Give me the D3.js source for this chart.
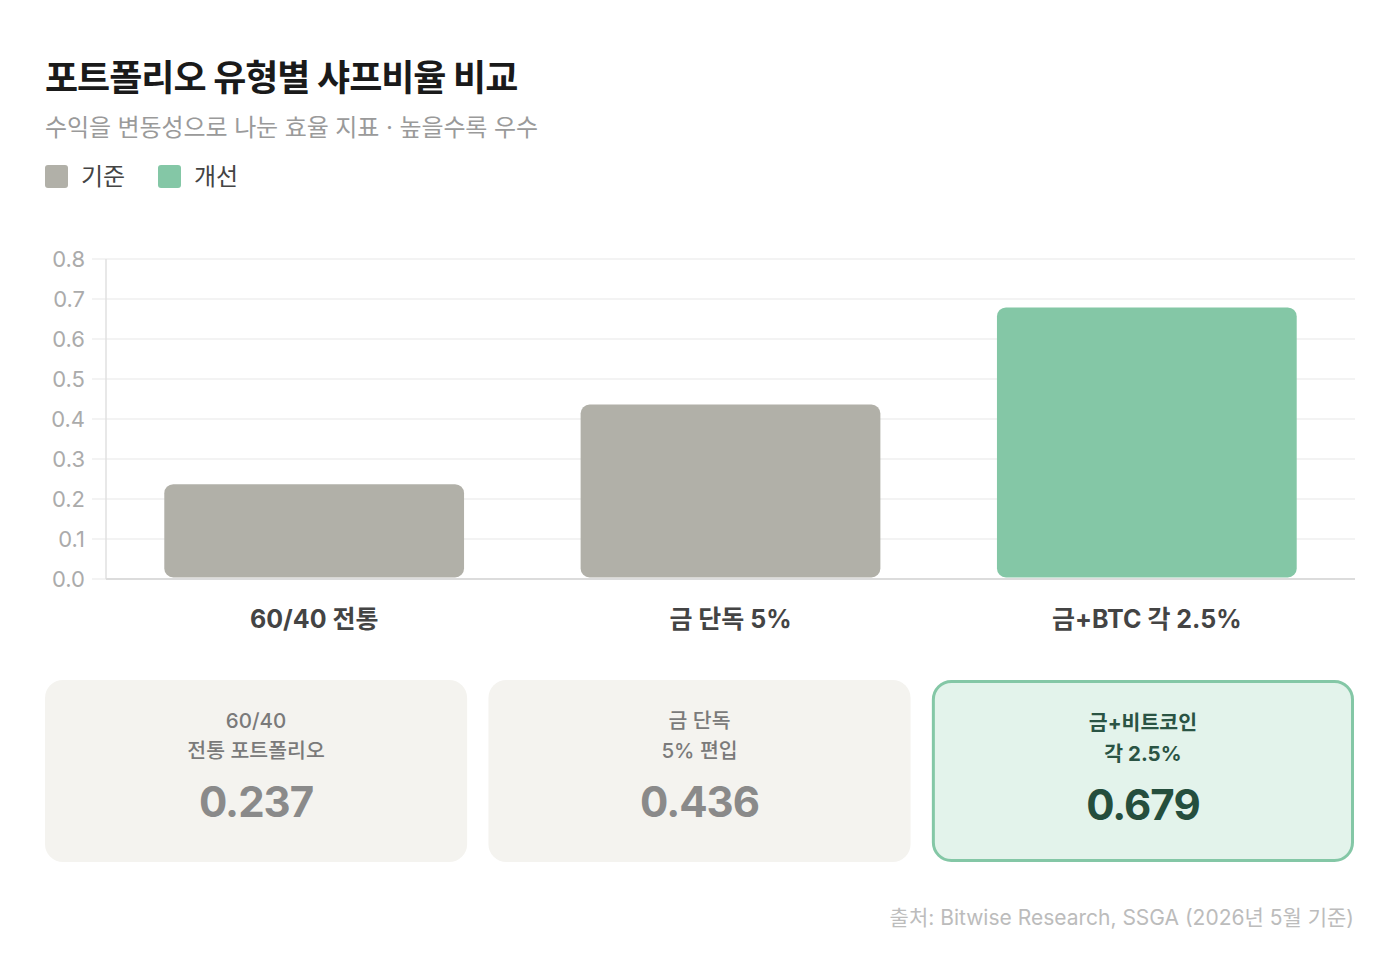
<!DOCTYPE html>
<html><head><meta charset="utf-8">
<script src="https://cdn.jsdelivr.net/npm/d3@7"></script>
<style>
html,body{margin:0;padding:0;background:#fff;}
svg{display:block;}
text{font-family:Inter,"Noto Sans CJK KR",sans-serif;}
</style></head>
<body><svg id="c" width="1398" height="970"></svg>
<script>
const categories = ["60/40 전통", "금 단독 5%", "금+BTC 각 2.5%"];
const sharpe = [0.237, 0.436, 0.679];
const groups = ["기준", "기준", "개선"];
const legendItems = ["기준", "개선"];
const cardLine1 = ["60/40", "금 단독", "금+비트코인"];
const cardLine2 = ["전통 포트폴리오", "5% 편입", "각 2.5%"];
const yTicks = [0, 0.1, 0.2, 0.3, 0.4, 0.5, 0.6, 0.7, 0.8];
const title = "포트폴리오 유형별 샤프비율 비교";
const subtitle = "수익을 변동성으로 나눈 효율 지표 · 높을수록 우수";
const source = "출처: Bitwise Research, SSGA (2026년 5월 기준)";

const colors = {"기준": "#b1b0a8", "개선": "#84c7a6"};
const helv = "'Liberation Sans',Arial,'Noto Sans CJK KR',sans-serif";
const svg = d3.select("#c");

svg.append("text").attr("x", 45).attr("y", 91).text(title)
  .attr("font-size", 36).attr("font-weight", 700).attr("fill", "#1a1a1a").attr("letter-spacing", -1);
svg.append("text").attr("x", 45).attr("y", 136).text(subtitle)
  .attr("font-size", 24).attr("fill", "#9a9a9a").attr("letter-spacing", -0.1);

const lg = svg.append("g").selectAll("g").data(legendItems).join("g")
  .attr("transform", (d, i) => `translate(${45 + i * 113},165)`);
lg.append("rect").attr("width", 23).attr("height", 23).attr("rx", 3).attr("fill", d => colors[d]);
lg.append("text").attr("x", 36).attr("y", 20).text(d => d).attr("font-size", 24).attr("fill", "#444");

const x0 = 106, x1 = 1355;
const x = d3.scaleBand().domain(categories).range([x0, x1]).paddingInner(0.28).paddingOuter(0.14);
const y = d3.scaleLinear().domain([0, 0.8]).range([579, 259]);

const grid = svg.append("g");
grid.selectAll("line").data(yTicks).join("line")
  .attr("x1", 92).attr("x2", x1).attr("y1", d => y(d)).attr("y2", d => y(d))
  .attr("stroke", "#efefef").attr("stroke-width", 1.5);

const yAxis = svg.append("g").attr("transform", `translate(${x0},0)`)
  .call(d3.axisLeft(y).tickValues(yTicks).tickFormat(d3.format(".1f")).tickSize(0).tickPadding(21));
yAxis.select(".domain").remove();
yAxis.selectAll("text").attr("font-size", 22).attr("fill", "#ababab")
  .attr("font-family", helv);

svg.append("line").attr("x1", x0).attr("x2", x0).attr("y1", y(0.8)).attr("y2", y(0)).attr("stroke", "#e0e0e0").attr("stroke-width", 1.5);
svg.append("line").attr("x1", x0).attr("x2", x1).attr("y1", y(0)).attr("y2", y(0)).attr("stroke", "#dcdcdc").attr("stroke-width", 2);

svg.append("g").selectAll("rect").data(categories).join("rect")
  .attr("x", d => x(d)).attr("width", x.bandwidth())
  .attr("y", (d, i) => y(sharpe[i])).attr("height", (d, i) => y(0) - 1.5 - y(sharpe[i]))
  .attr("rx", 9).attr("fill", (d, i) => colors[groups[i]]);

svg.append("g").selectAll("text").data(categories).join("text")
  .attr("x", d => x(d) + x.bandwidth() / 2).attr("y", 628).attr("text-anchor", "middle")
  .text(d => d).attr("font-size", 25).attr("font-weight", 700).attr("fill", "#444")
  .attr("font-family", helv);

// cards
const cx = d3.scaleBand().domain(categories).range([45, 1354]).paddingInner(0.048);
const hi = i => groups[i] === "개선";
const cards = svg.append("g").selectAll("g").data(categories).join("g")
  .attr("transform", d => `translate(${cx(d)},680)`);
cards.append("rect")
  .attr("x", (d, i) => hi(i) ? 1.5 : 0).attr("y", (d, i) => hi(i) ? 1.5 : 0)
  .attr("width", (d, i) => cx.bandwidth() - (hi(i) ? 3 : 0))
  .attr("height", (d, i) => 182 - (hi(i) ? 3 : 0))
  .attr("rx", 18)
  .attr("fill", (d, i) => hi(i) ? "#e3f3eb" : "#f4f3ef")
  .attr("stroke", (d, i) => hi(i) ? "#84c7a6" : "none")
  .attr("stroke-width", 3);
cards.append("text").attr("x", cx.bandwidth() / 2).attr("y", (d, i) => hi(i) ? 730 - 680 : 728 - 680)
  .attr("text-anchor", "middle").text((d, i) => cardLine1[i])
  .attr("font-size", 20.5).attr("font-weight", (d, i) => hi(i) ? 700 : 500)
  .attr("fill", (d, i) => hi(i) ? "#2a5444" : "#7a7a7a");
cards.append("text").attr("x", cx.bandwidth() / 2).attr("y", (d, i) => hi(i) ? 761 - 680 : 758 - 680)
  .attr("text-anchor", "middle").text((d, i) => cardLine2[i])
  .attr("font-size", 20.5).attr("font-weight", (d, i) => hi(i) ? 700 : 500)
  .attr("fill", (d, i) => hi(i) ? "#2a5444" : "#7a7a7a");
cards.append("text").attr("x", cx.bandwidth() / 2).attr("y", (d, i) => hi(i) ? 820 - 680 : 817 - 680)
  .attr("text-anchor", "middle").text((d, i) => sharpe[i].toFixed(3))
  .attr("font-size", 42).attr("font-weight", 700).attr("letter-spacing", -1)
  .attr("fill", (d, i) => hi(i) ? "#254e3d" : "#8a8a8a");

svg.append("text").attr("x", 1354).attr("y", 925).attr("text-anchor", "end").text(source)
  .attr("font-size", 21).attr("fill", "#bcbcbc");
</script></body></html>
